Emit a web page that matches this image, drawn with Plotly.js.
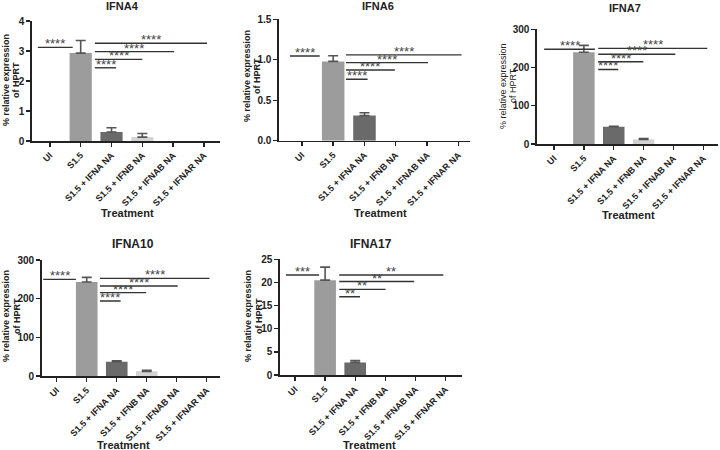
<!DOCTYPE html>
<html><head><meta charset="utf-8">
<script src="https://cdn.plot.ly/plotly-3.0.1.min.js"></script>
<style>html,body{margin:0;padding:0;background:#fff}#chart{width:720px;height:450px}</style>
</head><body><div id="chart"></div>
<script>
const categories = ['UI','S1.5','S1.5 + IFNA NA','S1.5 + IFNB NA','S1.5 + IFNAB NA','S1.5 + IFNAR NA'];
const barColors = ['#888888','#9c9c9c','#6a6a6a','#d2d2d2','#888888','#888888'];

const ifna4Mean = [0, 2.93, 0.30, 0.13, 0, 0];
const ifna4Err  = [null, 0.42, 0.14, 0.12, null, null];
const ifna6Mean = [0, 0.98, 0.31, 0, 0, 0];
const ifna6Err  = [null, 0.07, 0.035, null, null, null];
const ifna7Mean = [0, 240, 45, 12, 0, 0];
const ifna7Err  = [null, 18, 1, 2, null, null];
const ifna10Mean = [0, 243, 37, 12, 0, 0];
const ifna10Err  = [null, 12, 2, 3, null, null];
const ifna17Mean = [0, 20.5, 2.7, 0, 0, 0];
const ifna17Err  = [null, 2.8, 0.4, null, null, null];

// significance brackets: height, start category, end category, label
const ifna4SigY = [3.12, 3.26, 2.98, 2.72, 2.44];
const ifna4SigX0 = [-0.39, 1.46, 1.46, 1.46, 1.46];
const ifna4SigX1 = [0.74, 5.1, 4.03, 3.0, 2.15];
const ifna4SigLabel = ['****','****','****','****','****'];
const ifna6SigY = [1.047, 1.06, 0.965, 0.874, 0.76];
const ifna6SigX0 = [-0.38, 1.41, 1.41, 1.41, 1.41];
const ifna6SigX1 = [0.57, 5.1, 4.03, 2.97, 2.1];
const ifna6SigLabel = ['****','****','****','****','****'];
const ifna7SigY = [247.7, 250, 234.6, 215, 195];
const ifna7SigX0 = [-0.33, 1.48, 1.48, 1.48, 1.48];
const ifna7SigX1 = [1.37, 5.13, 4.06, 2.99, 2.15];
const ifna7SigLabel = ['****','****','****','****','****'];
const ifna10SigY = [250, 252.6, 232.7, 215.5, 194];
const ifna10SigX0 = [-0.45, 1.44, 1.44, 1.44, 1.44];
const ifna10SigX1 = [0.64, 5.09, 4.03, 2.98, 2.13];
const ifna10SigLabel = ['****','****','****','****','****'];
const ifna17SigY = [21.6, 21.6, 20.2, 18.5, 16.9];
const ifna17SigX0 = [-0.3, 1.47, 1.47, 1.47, 1.47];
const ifna17SigX1 = [0.8, 4.93, 3.96, 3.01, 2.16];
const ifna17SigLabel = ['***','**','**','**','**'];

const panelTitles = ['IFNA4','IFNA6','IFNA7','IFNA10','IFNA17'];
const yTitleLines = ['% relative expression', 'of HPRT'];
const W = 720, H = 450;
const FONT = 'Liberation Sans, Arial, sans-serif';

// layout geometry (pixels)
const panels = [
  {mean: ifna4Mean, err: ifna4Err, sy: ifna4SigY, sx0: ifna4SigX0, sx1: ifna4SigX1, sl: ifna4SigLabel,
   px: [32, 220], py0: 141, py1: 21, yr: [0, 4], dtick: 1, fmt: '', xr: [-0.58, 5.52],
   title: [122, 6], tsize: 11, ytx: [6, 16], yty: 80, treat: [127, 213], boldY: true},
  {mean: ifna6Mean, err: ifna6Err, sy: ifna6SigY, sx0: ifna6SigX0, sx1: ifna6SigX1, sl: ifna6SigLabel,
   px: [279, 470], py0: 140.7, py1: 19.3, yr: [0, 1.5], dtick: 0.5, fmt: '.1f', xr: [-0.73, 5.37],
   title: [378, 6], tsize: 11, ytx: [247, 257], yty: 76, treat: [380, 213], boldY: true},
  {mean: ifna7Mean, err: ifna7Err, sy: ifna7SigY, sx0: ifna7SigX0, sx1: ifna7SigX1, sl: ifna7SigLabel,
   px: [537, 718], py0: 144, py1: 29.3, yr: [0, 300], dtick: 100, fmt: '', xr: [-0.57, 5.49],
   title: [625, 8], tsize: 11, ytx: [503, 513], yty: 86, treat: [628, 215], boldY: false},
  {mean: ifna10Mean, err: ifna10Err, sy: ifna10SigY, sx0: ifna10SigX0, sx1: ifna10SigX1, sl: ifna10SigLabel,
   px: [41.7, 220], py0: 376, py1: 260, yr: [0, 300], dtick: 100, fmt: '', xr: [-0.5, 5.44],
   title: [133, 244], tsize: 12, ytx: [6, 17], yty: 316, treat: [123, 445], boldY: true},
  {mean: ifna17Mean, err: ifna17Err, sy: ifna17SigY, sx0: ifna17SigX0, sx1: ifna17SigX1, sl: ifna17SigLabel,
   px: [280, 461.7], py0: 375, py1: 259.3, yr: [0, 25], dtick: 5, fmt: '', xr: [-0.5, 5.54],
   title: [371, 244], tsize: 12, ytx: [248, 259], yty: 316, treat: [370, 445], boldY: true}
];

const data = [];
const layout = {
  width: W, height: H, margin: {l: 0, r: 0, t: 0, b: 0},
  paper_bgcolor: '#fff', plot_bgcolor: 'rgba(0,0,0,0)', showlegend: false,
  font: {family: FONT, color: '#222'},
  shapes: [], annotations: []
};

panels.forEach((p, i) => {
  const n = i + 1;
  const xa = n === 1 ? 'x' : 'x' + n;
  const ya = n === 1 ? 'y' : 'y' + n;
  data.push({
    type: 'bar', x: categories, y: p.mean, xaxis: xa, yaxis: ya, width: 0.72,
    marker: {color: barColors, line: {width: 0}}, hoverinfo: 'skip'
  });
  // upward-only error bars, only where an error value exists
  const idx = p.err.map((v, k) => (v === null ? -1 : k)).filter(k => k >= 0);
  data.push({
    type: 'scatter', mode: 'markers', xaxis: xa, yaxis: ya,
    x: idx.map(k => categories[k]), y: idx.map(k => p.mean[k]),
    marker: {size: 1, opacity: 0},
    error_y: {type: 'data', symmetric: false, array: idx.map(k => p.err[k]),
              arrayminus: idx.map(() => 0), color: '#555555', thickness: 1.6, width: 5},
    hoverinfo: 'skip'
  });
  const xKey = n === 1 ? 'xaxis' : 'xaxis' + n;
  const yKey = n === 1 ? 'yaxis' : 'yaxis' + n;
  layout[xKey] = {
    domain: [p.px[0] / W, p.px[1] / W], anchor: ya, type: 'category', range: p.xr,
    categoryorder: 'array', categoryarray: categories,
    showline: true, linecolor: '#222', linewidth: 1.6, ticks: 'outside', ticklen: 4, tickwidth: 1.4,
    tickcolor: '#222', showgrid: false, zeroline: false, tickangle: -45,
    tickfont: {family: FONT, size: 9, weight: 'bold', color: '#222'}, fixedrange: true
  };
  layout[yKey] = {
    domain: [(H - p.py0) / H, (H - p.py1) / H], anchor: xa, range: p.yr, dtick: p.dtick, tick0: 0,
    tickformat: p.fmt, showline: true, linecolor: '#222', linewidth: 1.6, ticks: 'outside',
    ticklen: 4, tickwidth: 1.4, tickcolor: '#222', showgrid: false, zeroline: false,
    tickfont: {family: FONT, size: 10, weight: 'bold', color: '#222'}, fixedrange: true
  };
  p.sy.forEach((yv, k) => {
    layout.shapes.push({type: 'line', xref: xa, yref: ya, x0: p.sx0[k], x1: p.sx1[k], y0: yv, y1: yv,
                        line: {color: '#333', width: 1.4}});
    layout.annotations.push({xref: xa, yref: ya, x: (p.sx0[k] + p.sx1[k]) / 2, y: yv, text: p.sl[k],
      showarrow: false, yanchor: 'bottom', yshift: -6, font: {family: FONT, size: 13, color: '#444'}});
  });
  layout.annotations.push({xref: 'paper', yref: 'paper', x: p.title[0] / W, y: 1 - p.title[1] / H,
    text: panelTitles[i], showarrow: false, xanchor: 'center', yanchor: 'middle',
    font: {family: FONT, size: p.tsize, weight: 'bold', color: '#222'}});
  yTitleLines.forEach((line, k) => {
    layout.annotations.push({xref: 'paper', yref: 'paper', x: p.ytx[k] / W, y: 1 - p.yty / H,
      text: line, showarrow: false, textangle: -90, xanchor: 'center', yanchor: 'middle',
      borderpad: 0,
      font: {family: FONT, size: 9, weight: p.boldY ? 'bold' : 'normal', color: '#222'}});
  });
  layout.annotations.push({xref: 'paper', yref: 'paper', x: p.treat[0] / W, y: 1 - p.treat[1] / H,
    text: 'Treatment', showarrow: false, xanchor: 'center', yanchor: 'middle',
    font: {family: FONT, size: 11, weight: 'bold', color: '#222'}});
});

Plotly.newPlot('chart', data, layout, {staticPlot: true, displayModeBar: false});
</script></body></html>
